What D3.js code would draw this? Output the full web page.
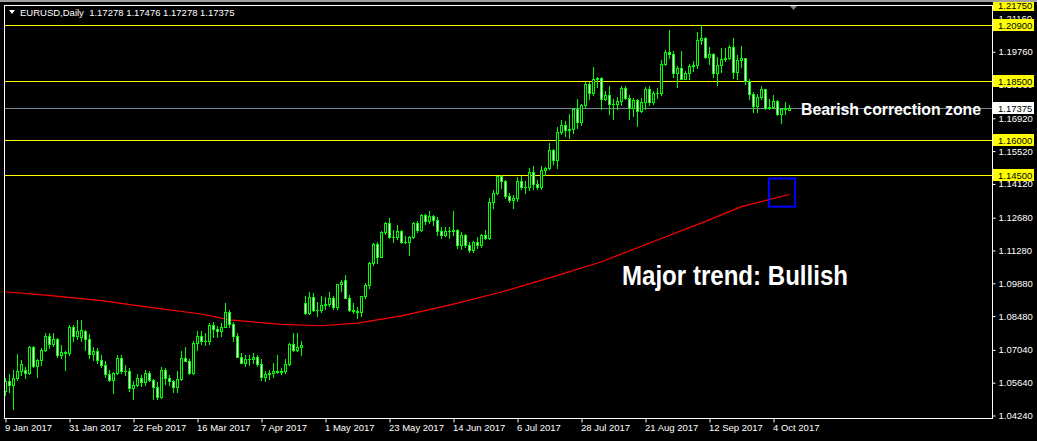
<!DOCTYPE html>
<html><head><meta charset="utf-8">
<script src="https://cdn.jsdelivr.net/npm/d3@7"></script>
<style>
html,body{margin:0;padding:0;background:#000;}
svg{display:block;}
text{font-family:"Liberation Sans",Arial,sans-serif;}
</style></head><body>
<svg id="c" width="1037" height="441"></svg>
<script>
// ---- DATA (EURUSD Daily, 9 Jan 2017 .. 10 Oct 2017) ----
const startDate = "2017-01-09";
const opens = [
1.0530,1.0573,1.0555,1.0585,1.0615,1.0620,1.0605,1.0715,1.0635,1.0660,1.0705,1.0765,1.0730,1.0750,1.0680,1.0695,1.0690,
1.0800,1.0765,1.0760,1.0785,1.0750,1.0685,1.0700,1.0660,1.0640,1.0600,1.0575,1.0605,1.0670,1.0615,1.0615,1.0540,1.0555,1.0585,1.0565,1.0605,
1.0575,1.0545,1.0505,1.0620,1.0585,1.0570,1.0545,1.0580,1.0670,1.0655,1.0605,1.0735,1.0765,1.0740,1.0740,1.0810,1.0795,1.0785,1.0800,1.0865,1.0815,1.0765,1.0675,
1.0650,1.0665,1.0665,1.0675,1.0645,1.0590,1.0600,1.0605,1.0615,1.0610,1.0615,1.0645,1.0730,1.0705,1.0715,1.0905,1.0860,1.0930,1.0875,1.0875,
1.0895,1.0900,1.0925,1.0885,1.0985,1.1000,1.0925,1.0875,1.0870,1.0865,1.0935,1.0980,1.1075,1.1155,1.1100,1.1205,1.1245,1.1185,1.1185,1.1210,1.1165,1.1165,1.1185,
1.1245,1.1215,1.1280,1.1255,1.1275,1.1260,1.1210,1.1195,1.1210,1.1210,1.1215,1.1150,1.1195,1.1150,1.1130,1.1165,1.1150,1.1195,1.1180,1.1335,1.1375,1.1445,
1.1425,1.1360,1.1345,1.1350,1.1425,1.1400,1.1400,1.1465,1.1410,1.1400,1.1470,1.1480,1.1555,1.1515,1.1635,1.1665,1.1640,1.1645,1.1730,1.1675,1.1750,
1.1840,1.1800,1.1860,1.1865,1.1775,1.1790,1.1755,1.1755,1.1765,1.1820,1.1780,1.1735,1.1770,1.1725,1.1760,1.1815,1.1760,1.1800,1.1800,1.1925,1.1975,1.1965,1.1885,
1.1905,1.1860,1.1885,1.1915,1.1920,1.2025,1.2035,1.1955,1.1965,1.1885,1.1920,1.1945,1.1950,1.1995,1.1890,1.1940,1.1950,1.1850,1.1795,1.1745,1.1785,
1.1815,1.1735,1.1740,1.1765,1.1710,1.1730,1.17278];
const highs = [
1.0585,1.0600,1.0620,1.0685,1.0660,1.0630,1.0720,1.0720,1.0665,1.0710,1.0775,1.0775,1.0775,1.0755,1.0725,1.0700,1.0810,
1.0810,1.0830,1.0830,1.0790,1.0770,1.0715,1.0710,1.0680,1.0655,1.0620,1.0610,1.0680,1.0680,1.0640,1.0625,1.0570,1.0600,1.0595,1.0620,1.0615,
1.0580,1.0565,1.0630,1.0625,1.0595,1.0575,1.0615,1.0700,1.0715,1.0665,1.0740,1.0785,1.0785,1.0775,1.0820,1.0825,1.0805,1.0820,1.0905,1.0875,1.0825,1.0775,1.0690,
1.0680,1.0680,1.0690,1.0680,1.0665,1.0615,1.0620,1.0650,1.0680,1.0625,1.0665,1.0735,1.0775,1.0775,1.0740,1.0935,1.0950,1.0945,1.0910,1.0935,
1.0930,1.0950,1.0935,1.0985,1.1000,1.1025,1.0940,1.0905,1.0885,1.0935,1.0990,1.1080,1.1160,1.1165,1.1210,1.1250,1.1265,1.1215,1.1235,1.1215,1.1190,1.1190,1.1250,
1.1255,1.1285,1.1285,1.1295,1.1280,1.1270,1.1230,1.1230,1.1230,1.1295,1.1220,1.1205,1.1200,1.1165,1.1170,1.1185,1.1200,1.1215,1.1350,1.1385,1.1445,1.1450,
1.1430,1.1375,1.1365,1.1440,1.1445,1.1425,1.1480,1.1490,1.1430,1.1490,1.1485,1.1585,1.1560,1.1655,1.1685,1.1680,1.1710,1.1735,1.1775,1.1755,1.1845,
1.1845,1.1910,1.1870,1.1870,1.1810,1.1830,1.1775,1.1785,1.1830,1.1830,1.1790,1.1780,1.1775,1.1780,1.1825,1.1830,1.1810,1.1820,1.1940,1.1985,1.2070,1.1980,1.1915,
1.1980,1.1895,1.1925,1.1935,1.2060,1.2092,1.2040,1.1995,1.1970,1.1955,1.1990,1.1990,1.2005,1.2035,1.1960,1.2000,1.1950,1.1860,1.1805,1.1795,1.1830,
1.1815,1.1775,1.1790,1.1770,1.1735,1.1760,1.17476];
const lows = [
1.0510,1.0525,1.0453,1.0575,1.0595,1.0585,1.0600,1.0630,1.0590,1.0640,1.0700,1.0710,1.0720,1.0675,1.0670,1.0620,1.0680,
1.0740,1.0750,1.0740,1.0705,1.0670,1.0660,1.0650,1.0630,1.0590,1.0570,1.0520,1.0600,1.0605,1.0595,1.0530,1.0495,1.0550,1.0550,1.0555,1.0570,
1.0495,1.0495,1.0500,1.0560,1.0555,1.0525,1.0525,1.0575,1.0655,1.0600,1.0600,1.0705,1.0730,1.0725,1.0730,1.0760,1.0760,1.0765,1.0800,1.0800,1.0740,1.0675,1.0650,
1.0635,1.0640,1.0650,1.0635,1.0575,1.0570,1.0580,1.0590,1.0605,1.0600,1.0605,1.0640,1.0700,1.0700,1.0680,1.0855,1.0855,1.0870,1.0850,1.0865,
1.0880,1.0890,1.0880,1.0880,1.0955,1.0925,1.0870,1.0860,1.0840,1.0850,1.0925,1.0970,1.1065,1.1075,1.1100,1.1200,1.1180,1.1165,1.1175,1.1160,1.1160,1.1110,1.1180,
1.1205,1.1210,1.1240,1.1245,1.1235,1.1195,1.1180,1.1190,1.1180,1.1195,1.1140,1.1135,1.1145,1.1120,1.1120,1.1140,1.1145,1.1175,1.1175,1.1310,1.1370,1.1395,
1.1350,1.1335,1.1310,1.1340,1.1390,1.1375,1.1385,1.1390,1.1390,1.1390,1.1450,1.1475,1.1495,1.1480,1.1625,1.1615,1.1610,1.1630,1.1650,1.1665,1.1740,
1.1775,1.1790,1.1825,1.1730,1.1770,1.1710,1.1690,1.1730,1.1750,1.1775,1.1690,1.1700,1.1660,1.1720,1.1730,1.1750,1.1755,1.1780,1.1790,1.1920,1.1950,1.1870,1.1825,
1.1860,1.1860,1.1860,1.1895,1.1905,1.2010,1.1950,1.1925,1.1870,1.1835,1.1890,1.1935,1.1945,1.1865,1.1860,1.1910,1.1840,1.1775,1.1720,1.1720,1.1775,
1.1730,1.1730,1.1735,1.1705,1.1670,1.1710,1.17278];
const closes = [
1.0573,1.0555,1.0585,1.0615,1.0645,1.0605,1.0715,1.0635,1.0660,1.0705,1.0765,1.0730,1.0750,1.0680,1.0695,1.0690,1.0800,
1.0765,1.0785,1.0790,1.0750,1.0685,1.0700,1.0660,1.0640,1.0600,1.0575,1.0605,1.0670,1.0615,1.0615,1.0540,1.0555,1.0585,1.0565,1.0605,1.0575,
1.0545,1.0505,1.0620,1.0585,1.0570,1.0545,1.0580,1.0670,1.0655,1.0605,1.0735,1.0765,1.0740,1.0740,1.0810,1.0795,1.0785,1.0800,1.0865,1.0815,1.0765,1.0675,1.0650,
1.0665,1.0665,1.0675,1.0645,1.0590,1.0600,1.0605,1.0615,1.0610,1.0615,1.0645,1.0730,1.0705,1.0715,1.0725,1.0860,1.0930,1.0875,1.0875,1.0895,
1.0900,1.0925,1.0885,1.0985,1.0995,1.0925,1.0875,1.0870,1.0865,1.0935,1.0980,1.1075,1.1155,1.1100,1.1205,1.1245,1.1185,1.1185,1.1210,1.1165,1.1165,1.1185,1.1245,
1.1215,1.1280,1.1255,1.1275,1.1260,1.1210,1.1195,1.1210,1.1210,1.1215,1.1150,1.1195,1.1150,1.1130,1.1165,1.1150,1.1195,1.1180,1.1335,1.1375,1.1445,1.1425,
1.1360,1.1345,1.1350,1.1425,1.1400,1.1400,1.1465,1.1410,1.1400,1.1470,1.1480,1.1555,1.1515,1.1635,1.1665,1.1640,1.1645,1.1730,1.1675,1.1750,1.1840,
1.1800,1.1860,1.1865,1.1775,1.1790,1.1755,1.1755,1.1765,1.1820,1.1780,1.1735,1.1770,1.1725,1.1760,1.1815,1.1760,1.1800,1.1800,1.1925,1.1975,1.1965,1.1885,1.1905,
1.1860,1.1885,1.1915,1.1920,1.2025,1.2035,1.1955,1.1965,1.1885,1.1920,1.1945,1.1950,1.1995,1.1890,1.1940,1.1950,1.1850,1.1795,1.1745,1.1785,1.1815,
1.1735,1.1740,1.1765,1.1710,1.1730,1.1735,1.17375];

// moving average (red line), bar index and value
const maIndex = [0, 12, 24, 36, 49, 56, 64, 69, 79, 88, 99, 111, 124, 136, 149, 163, 175, 184, 196];
const maValue = [1.0952,1.0934,1.0914,1.0885,1.0857,1.0832,1.0820,1.0813,1.0807,1.0818,1.0849,1.0895,1.0951,1.1011,1.1080,1.1173,1.1252,1.1315,1.1367];

// horizontal levels
const levelPrices = [1.2175, 1.2090, 1.1850, 1.1600, 1.1450];
const bidPrice = 1.17375;

// axis ticks
const priceTicks = [1.2116, 1.1976, 1.1836, 1.1692, 1.1552, 1.1412, 1.1268, 1.1128, 1.0988, 1.0848, 1.0704, 1.0564, 1.0424];
const dateTickIndex = [0,16,32,48,64,80,96,112,128,144,160,176,192];
const dateTickLabels = ["9 Jan 2017","31 Jan 2017","22 Feb 2017","16 Mar 2017","7 Apr 2017","1 May 2017","23 May 2017","14 Jun 2017","6 Jul 2017","28 Jul 2017","21 Aug 2017","12 Sep 2017","4 Oct 2017"];

const headerText = "EURUSD,Daily  1.17278 1.17476 1.17278 1.17375";
const note1 = "Bearish correction zone";
const note2 = "Major trend: Bullish";
// annotation box: bar range and price range
const boxBars = [191, 197.5];
const boxPrices = [1.1435, 1.1315];

// ---- DRAW ----
const W = 1037, H = 441;
const L = 4, R = 992, T = 5, B = 418;
const n = closes.length;
const svg = d3.select("#c");
svg.append("rect").attr("width", W).attr("height", H).attr("fill", "#000");

const x = d3.scaleLinear().domain([0, n - 1]).range([5, 5 + 4 * (n - 1)]);
const y = d3.scaleLinear().domain([1.0424, 1.2175]).range([415.5, 5.1]);
const py = v => Math.round(y(v));

// levels
svg.append("g").selectAll("rect").data(levelPrices).join("rect")
  .attr("x", L).attr("width", R - L).attr("y", d => py(d)).attr("height", 1).attr("fill", "#ffff00");
svg.append("rect").attr("x", L).attr("width", R - L).attr("y", py(bidPrice)).attr("height", 1).attr("fill", "#778899");

// moving average
const maLine = d3.line().x(d => x(d[0]) + 0.5).y(d => y(d[1]));
svg.append("path").datum(maIndex.map((d, i) => [d, maValue[i]]))
  .attr("d", maLine).attr("fill", "none").attr("stroke", "#ff0000").attr("stroke-width", 1.2);

// candles
const candles = d3.range(n).map(i => ({i, o: opens[i], h: highs[i], l: lows[i], c: closes[i]}));
const g = svg.append("g");
const cg = g.selectAll("g").data(candles).join("g");
cg.append("rect").attr("x", d => Math.round(x(d.i))).attr("width", 1)
  .attr("y", d => py(d.h)).attr("height", d => Math.max(1, py(d.l) - py(d.h) + 1)).attr("fill", "#00ff00");
cg.append("rect").attr("x", d => Math.round(x(d.i)) - 1).attr("width", 3)
  .attr("y", d => py(Math.max(d.o, d.c)))
  .attr("height", d => Math.max(1, py(Math.min(d.o, d.c)) - py(Math.max(d.o, d.c)) + 1)).attr("fill", "#00ff00");
cg.filter(d => py(Math.min(d.o, d.c)) - py(Math.max(d.o, d.c)) > 1)
  .append("rect").attr("x", d => Math.round(x(d.i))).attr("width", 1)
  .attr("y", d => py(Math.max(d.o, d.c)) + 1)
  .attr("height", d => py(Math.min(d.o, d.c)) - py(Math.max(d.o, d.c)) - 1)
  .attr("fill", d => d.c >= d.o ? "#000" : "#ffffff");

// blue box
svg.append("rect").attr("x", x(boxBars[0])).attr("y", y(boxPrices[0]))
  .attr("width", x(boxBars[1]) - x(boxBars[0])).attr("height", y(boxPrices[1]) - y(boxPrices[0]))
  .attr("fill", "none").attr("stroke", "#0000ff").attr("stroke-width", 2);

// annotations
svg.append("text").attr("x", 801).attr("y", 115).attr("fill", "#ffffff")
  .attr("font-size", 17).attr("font-weight", "bold")
  .attr("textLength", 180).attr("lengthAdjust", "spacingAndGlyphs").text(note1);
svg.append("text").attr("x", 622).attr("y", 285).attr("fill", "#ffffff")
  .attr("font-size", 28).attr("font-weight", "bold")
  .attr("textLength", 226).attr("lengthAdjust", "spacingAndGlyphs").text(note2);

// frame
svg.append("rect").attr("x", L + 0.5).attr("y", T + 0.5).attr("width", R - L).attr("height", B - T)
  .attr("fill", "none").attr("stroke", "#ffffff").attr("stroke-width", 1);

// right axis
const ya = d3.axisRight(y).tickValues(priceTicks).tickSize(3).tickFormat(d3.format(".5f"));
const yg = svg.append("g").attr("transform", `translate(${R + 0.5},0)`).call(ya);
yg.select(".domain").remove();
yg.selectAll(".tick line").attr("stroke", "#fff");
yg.selectAll(".tick text").attr("fill", "#fff").attr("font-size", 9.5).attr("x", 6)
  .style("font-family", "'Liberation Sans', Arial, sans-serif");

// level labels
function priceLabel(p, bg) {
  const gy = py(p);
  svg.append("rect").attr("x", R + 1).attr("y", gy - 6).attr("width", 41).attr("height", 12).attr("fill", bg);
  svg.append("text").attr("x", R + 6).attr("y", gy + 3.5).attr("fill", "#000").attr("font-size", 9.5)
    .text(d3.format(".5f")(p));
}
levelPrices.forEach(p => priceLabel(p, "#ffff00"));
priceLabel(bidPrice, "#ffffff");

// bottom axis
const xa = d3.axisBottom(x).tickValues(dateTickIndex).tickSize(4)
  .tickFormat((d, i) => dateTickLabels[i]);
const xg = svg.append("g").attr("transform", `translate(0.5,${B + 0.5})`).call(xa);
xg.select(".domain").remove();
xg.selectAll(".tick line").attr("stroke", "#fff");
xg.selectAll(".tick text").attr("fill", "#fff").attr("font-size", 9.5).attr("text-anchor", "start")
  .attr("x", -1).attr("y", 6).attr("dy", "0.71em")
  .style("font-family", "'Liberation Sans', Arial, sans-serif");

// header
svg.append("path").attr("d", "M9,10 L15,10 L12,14 Z").attr("fill", "#fff");
svg.append("text").attr("x", 20).attr("y", 16).attr("fill", "#fff").attr("font-size", 9.5)
  .style("white-space", "pre").text(headerText);
svg.append("path").attr("d", "M790,6 L797,6 L793.5,10 Z").attr("fill", "#808080");

// window border
svg.append("rect").attr("x", 0).attr("y", 0).attr("width", W).attr("height", 2).attr("fill", "#a0a0a0");
</script>
</body></html>
